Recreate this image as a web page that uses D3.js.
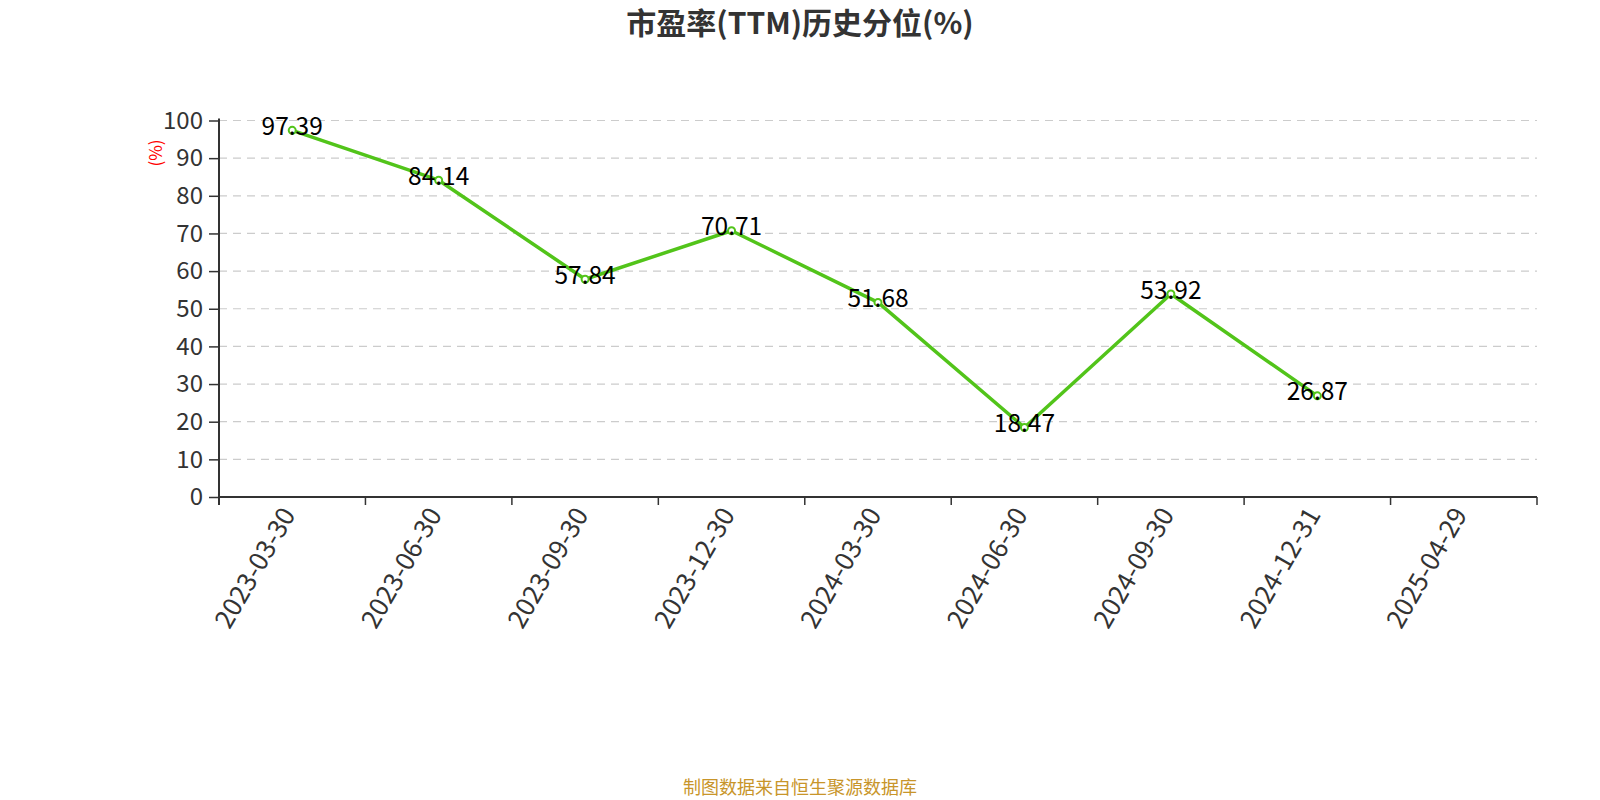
<!DOCTYPE html>
<html>
<head>
<meta charset="utf-8">
<script src="https://cdn.jsdelivr.net/npm/d3@7"></script>
<style>
  html, body { margin: 0; padding: 0; background: #fff; }
  svg { display: block; }
  text { font-family: "Noto Sans CJK SC", "Noto Sans", sans-serif; }
</style>
</head>
<body>
<svg id="chart" width="1600" height="800"></svg>
<script>
const categories = ["2023-03-30","2023-06-30","2023-09-30","2023-12-30","2024-03-30","2024-06-30","2024-09-30","2024-12-31","2025-04-29"];
const values = [97.39, 84.14, 57.84, 70.71, 51.68, 18.47, 53.92, 26.87, null];
const yTicks = [0,10,20,30,40,50,60,70,80,90,100];
const titleText = "市盈率(TTM)历史分位(%)";
const unitText = "(%)";
const sourceText = "制图数据来自恒生聚源数据库";

const svg = d3.select("#chart");
const W = 1600, H = 800;
const m = {left: 219, right: 1537, top: 120.5, bottom: 497};
const green = "#52c41a";

const x = d3.scaleBand().domain(categories).range([m.left, m.right]).padding(0);
const y = d3.scaleLinear().domain([0, 100]).range([m.bottom, m.top]);

// title
svg.append("text").attr("x", W/2).attr("y", 34).attr("text-anchor","middle")
  .attr("font-size", 30).attr("font-weight","bold")
  .attr("fill","#333").text(titleText);

// grid
svg.append("g").selectAll("line").data(yTicks.filter(d => d > 0)).join("line")
  .attr("x1", m.left).attr("x2", m.right)
  .attr("y1", d => y(d)).attr("y2", d => y(d))
  .attr("stroke", "#ccc").attr("stroke-width", 1.2).attr("stroke-dasharray", "8,6");

// y axis
const yAxis = d3.axisLeft(y).tickValues(yTicks).tickSize(10).tickPadding(6).tickFormat(d3.format("d"));
const gy = svg.append("g").attr("transform", `translate(${m.left},0)`).call(yAxis);
gy.select(".domain").remove();
gy.selectAll(".tick line").attr("stroke","#333").attr("stroke-width",1.5);
gy.selectAll(".tick text").attr("fill","#333").attr("font-size",24)
  .attr("font-family","'Noto Sans CJK SC', sans-serif");
svg.append("line").attr("x1", m.left).attr("x2", m.left).attr("y1", m.top - 2).attr("y2", m.bottom + 8)
  .attr("stroke","#333").attr("stroke-width",2);

// unit label
svg.append("text").attr("transform", `translate(157,153) rotate(-90)`)
  .attr("text-anchor","middle").attr("dominant-baseline","middle")
  .attr("font-size",17).attr("fill","red").text(unitText);

// x axis
const gx = svg.append("g").attr("transform", `translate(0,${m.bottom})`);
gx.append("line").attr("x1", m.left).attr("x2", m.right).attr("stroke","#333").attr("stroke-width",2);
const bounds = categories.map(c => x(c)).concat([x(categories[categories.length-1]) + x.bandwidth()]);
gx.selectAll(".bt").data(bounds).join("line").attr("class","bt")
  .attr("x1", d => d).attr("x2", d => d).attr("y1", 0).attr("y2", 8)
  .attr("stroke","#333").attr("stroke-width",1.5);
gx.selectAll(".xl").data(categories).join("text").attr("class","xl")
  .attr("transform", d => `translate(${x(d) + x.bandwidth()/2 - 2},14) rotate(-60)`)
  .attr("text-anchor","end").attr("dominant-baseline","middle")
  .attr("font-size",26).attr("fill","#333").text(d => d);

// line
const pts = categories.map((c,i) => ({c, v: values[i]})).filter(d => d.v != null);
const line = d3.line().x(d => x(d.c) + x.bandwidth()/2).y(d => y(d.v));
svg.append("path").datum(pts).attr("d", line).attr("fill","none")
  .attr("stroke", green).attr("stroke-width",3.5).attr("stroke-linejoin","round");

svg.append("g").selectAll("circle").data(pts).join("circle")
  .attr("cx", d => x(d.c) + x.bandwidth()/2).attr("cy", d => y(d.v)).attr("r", 3.5)
  .attr("fill","#fff").attr("stroke", green).attr("stroke-width",2);

svg.append("g").selectAll("text").data(pts).join("text")
  .attr("x", d => x(d.c) + x.bandwidth()/2).attr("y", d => y(d.v) - 2)
  .attr("text-anchor","middle").attr("dominant-baseline","middle")
  .attr("font-size",24.5).attr("fill","#000").text(d => d.v.toFixed(2));

// source
svg.append("text").attr("x", W/2).attr("y", 789).attr("text-anchor","middle")
  .attr("dominant-baseline","middle").attr("font-size",18).attr("fill","#c8952a").text(sourceText);
</script>
</body>
</html>
